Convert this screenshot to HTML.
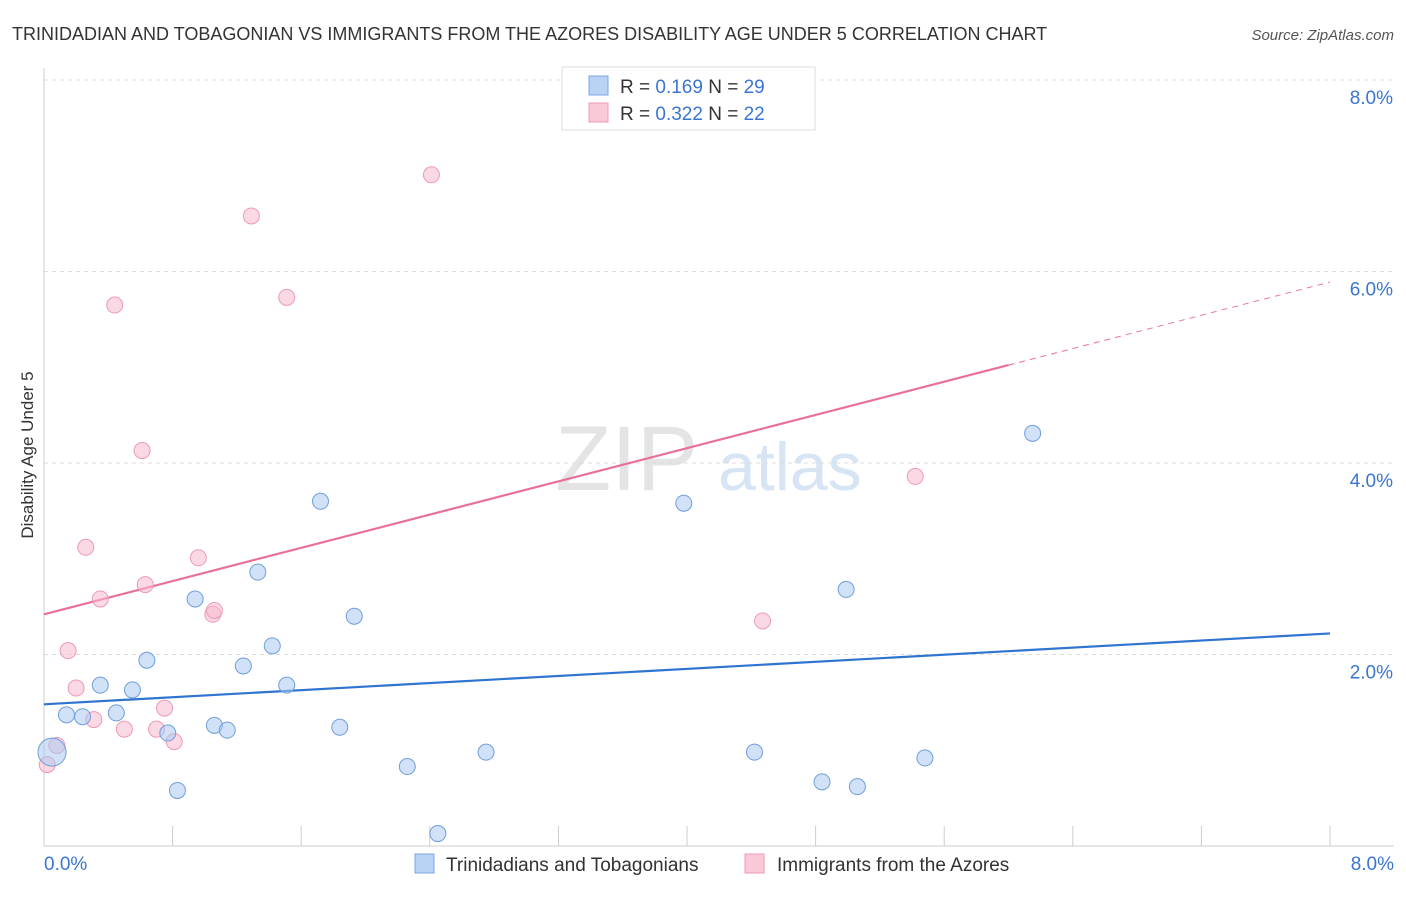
<!DOCTYPE html>
<html><head><meta charset="utf-8">
<style>
body{margin:0;background:#fff;font-family:"Liberation Sans",sans-serif;}
svg text{font-family:"Liberation Sans",sans-serif;}
</style></head>
<body>
<svg id="chart" width="1406" height="892" xmlns="http://www.w3.org/2000/svg">
<text x="12" y="40" font-size="18" fill="#333">TRINIDADIAN AND TOBAGONIAN VS IMMIGRANTS FROM THE AZORES DISABILITY AGE UNDER 5 CORRELATION CHART</text>
<text x="1394" y="40" font-size="15" fill="#555" text-anchor="end" font-style="italic">Source: ZipAtlas.com</text>
<text x="555" y="490" font-size="92" fill="#e4e4e4" font-family="Liberation Serif">ZIP</text>
<text x="718" y="490" font-size="68" fill="#d6e4f4">atlas</text>
<text transform="translate(33,455) rotate(-90)" font-size="17" fill="#333" text-anchor="middle">Disability Age Under 5</text>
<g id="grid"></g>
<g id="axes"></g>
<g id="lines"></g>
<g id="points"></g>
<g>
<rect x="562" y="67" width="253" height="63" fill="#fff" stroke="#ddd"/>
<rect x="589" y="76" width="19" height="19" fill="#b9d3f5" stroke="#7aa6e0"/>
<rect x="589" y="103" width="19" height="19" fill="#fbc8d7" stroke="#ef9ab4"/>
<text x="620" y="93" font-size="19" fill="#333">R = <tspan fill="#3a76d0">0.169</tspan>   N = <tspan fill="#3a76d0">29</tspan></text>
<text x="620" y="120" font-size="19" fill="#333">R = <tspan fill="#3a76d0">0.322</tspan>   N = <tspan fill="#3a76d0">22</tspan></text>
</g>
<g>
<rect x="415" y="854" width="19" height="19" fill="#b9d3f5" stroke="#7aa6e0"/>
<text x="446" y="871" font-size="19" fill="#333">Trinidadians and Tobagonians</text>
<rect x="745" y="854" width="19" height="19" fill="#fbc8d7" stroke="#ef9ab4"/>
<text x="777" y="871" font-size="19" fill="#333">Immigrants from the Azores</text>
</g>
</svg>
<script>
const blueX=[0.05,0.14,0.24,0.35,0.45,0.55,0.64,0.77,0.83,0.94,1.06,1.14,1.24,1.33,1.42,1.51,1.72,1.84,1.93,2.26,2.45,2.75,3.98,4.42,4.84,4.99,5.06,5.48,6.15];
const blueY=[0.98,1.37,1.35,1.68,1.39,1.63,1.94,1.18,0.58,2.58,1.26,1.21,1.88,2.86,2.09,1.68,3.60,1.24,2.40,0.83,0.13,0.98,3.58,0.98,0.67,2.68,0.62,0.92,4.31];
const pinkX=[0.02,0.08,0.15,0.20,0.26,0.31,0.35,0.44,0.50,0.61,0.63,0.70,0.75,0.81,0.96,1.05,1.06,1.29,1.51,2.41,4.47,5.42];
const pinkY=[0.85,1.05,2.04,1.65,3.12,1.32,2.58,5.65,1.22,4.13,2.73,1.22,1.44,1.09,3.01,2.42,2.46,6.58,5.73,7.01,2.35,3.86];
const blueTrend=[1.48,2.22];
const pinkTrend=[2.42,5.89];
const pinkSolidEnd=6.0;
const yTicks=[2,4,6,8];
const yTickLabels=["2.0%","4.0%","6.0%","8.0%"];
const xTicks=[0.8,1.6,2.4,3.2,4.0,4.8,5.6,6.4,7.2,8.0];
const NS="http://www.w3.org/2000/svg";
const sx=v=>44+v/8*1286, sy=v=>846-v*95.75;
function mk(p,tag,a){const e=document.createElementNS(NS,tag);for(const k in a)e.setAttribute(k,a[k]);p.appendChild(e);return e;}
const grid=document.getElementById('grid'),axes=document.getElementById('axes'),lines=document.getElementById('lines'),pts=document.getElementById('points');
yTicks.forEach((t,i)=>{
 const l=mk(grid,'line',{x1:44,x2:1394,y1:sy(t),y2:sy(t),stroke:'#ddd','stroke-dasharray':'4,4'});
 
 
 const tx=mk(axes,'text',{x:1393,y:sy(t)+24,'font-size':19,fill:'#3a76d0','text-anchor':'end'});
 tx.textContent=yTickLabels[i];
 
 
});
const ax=mk(axes,'line',{x1:44,x2:1394,y1:846,y2:846,stroke:'#ccc'});


const ay=mk(axes,'line',{x1:44,x2:44,y1:68,y2:846,stroke:'#ccc'});


xTicks.forEach(t=>{const l=mk(axes,'line',{x1:sx(t),x2:sx(t),y1:826,y2:846,stroke:'#ccc'});
 
 });
[[0,"0.0%",'start',44],[8,"8.0%",'end',1394]].forEach(a=>{const t=mk(axes,'text',{x:a[3],y:870,'font-size':19,fill:'#3a76d0','text-anchor':a[2]});t.textContent=a[1];
 
 });
const bl=mk(lines,'line',{x1:sx(0),y1:sy(blueTrend[0]),x2:sx(8),y2:sy(blueTrend[1]),stroke:'#2f74d0','stroke-width':2.2});


const pf=x=>pinkTrend[0]+(pinkTrend[1]-pinkTrend[0])*x/8;
const pl=mk(lines,'line',{x1:sx(0),y1:sy(pf(0)),x2:sx(pinkSolidEnd),y2:sy(pf(pinkSolidEnd)),stroke:'#e8709a','stroke-width':2.2});


const pd=mk(lines,'line',{x1:sx(pinkSolidEnd),y1:sy(pf(pinkSolidEnd)),x2:sx(8),y2:sy(pf(8)),stroke:'#e8709a','stroke-width':1,'stroke-dasharray':'6,5'});


pinkX.forEach((x,i)=>{const c=mk(pts,'circle',{cx:sx(x),cy:sy(pinkY[i]),r:8,fill:'rgba(248,185,205,0.55)',stroke:'#ec9ab4','stroke-width':1});
 
 });
blueX.forEach((x,i)=>{const c=mk(pts,'circle',{cx:sx(x),cy:sy(blueY[i]),r:i==0?14:8,fill:'rgba(170,200,242,0.55)',stroke:'#6f9edc','stroke-width':1});
 
 });
</script>
</body></html>
